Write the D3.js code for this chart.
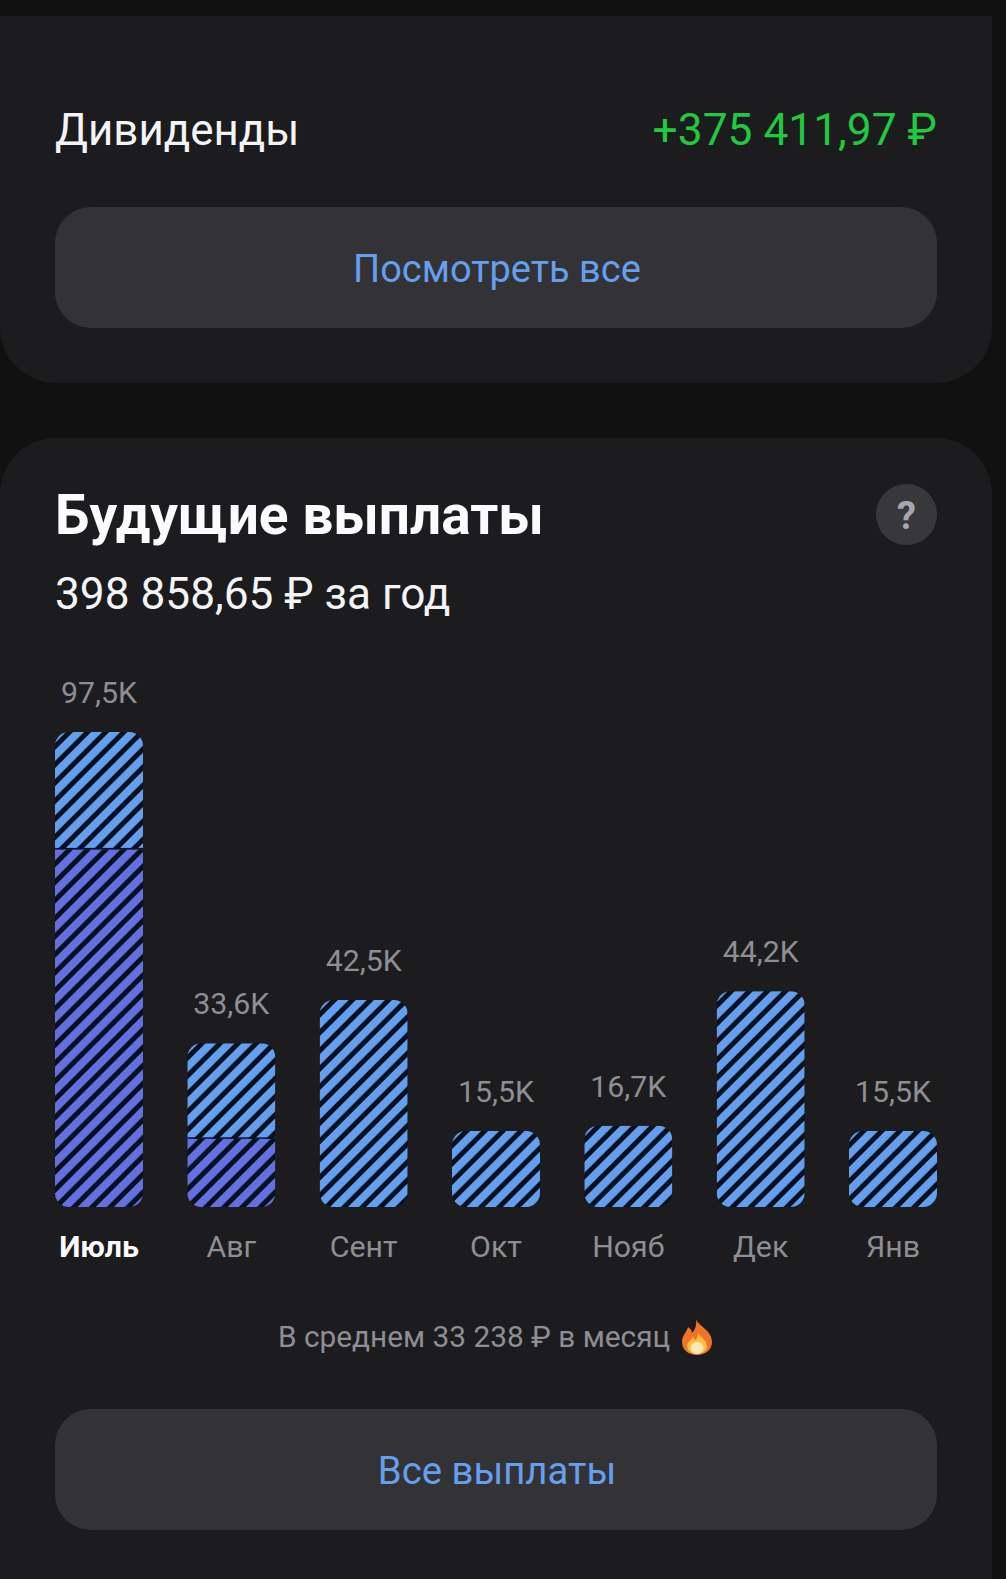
<!DOCTYPE html>
<html><head><meta charset="utf-8">
<script src="https://cdn.jsdelivr.net/npm/d3@7"></script>
<style>html,body{margin:0;padding:0;background:#111112;overflow:hidden}svg{display:block;font-family:Roboto,sans-serif}</style>
</head><body><svg id="c" width="1006" height="1579"></svg>
<script>
const months=["Июль","Авг","Сент","Окт","Нояб","Дек","Янв"];
const totalLabels=["97,5K","33,6K","42,5K","15,5K","16,7K","44,2K","15,5K"];
const totals=[97.5,33.6,42.5,15.6,16.7,44.3,15.6];
const lowerPart=[73.4,14.0,0,0,0,0,0];
const heading="Будущие выплаты";
const subtitle="398 858,65 ₽ за год";
const average="В среднем 33 238 ₽ в месяц";

const svg=d3.select("#c");
const defs=svg.append("defs");
function hatch(id,color,x0,y0){
  const p=defs.append("pattern").attr("id",id).attr("patternUnits","userSpaceOnUse")
    .attr("width",12.8).attr("height",12.8).attr("patternTransform",`translate(${x0},${y0}) rotate(45)`);
  p.append("rect").attr("width",12.8).attr("height",12.8).attr("fill","#07101f");
  p.append("rect").attr("x",0).attr("width",7.8).attr("height",12.8).attr("fill",color);
}

svg.append("rect").attr("width",1006).attr("height",1579).attr("fill","#111112");
const card="#1c1c1e", btn="#333336";
svg.append("path").attr("fill",card).attr("d","M0 16H992V327A56 56 0 0 1 936 383H56A56 56 0 0 1 0 327Z");
svg.append("path").attr("fill",card).attr("d","M0 494A56 56 0 0 1 56 438H936A56 56 0 0 1 992 494V1579H0Z");

function text(x,y,s,size,fill,anchor,weight){
  return svg.append("text").attr("x",x).attr("y",y).text(s).attr("font-size",size).attr("fill",fill)
    .attr("text-anchor",anchor||"start").attr("font-weight",weight||400);
}
text(55,145,"Дивиденды",43.9,"#f4f4f6");
text(937,145,"+375 411,97 ₽",44.3,"#20c93e","end");
svg.append("rect").attr("x",55).attr("y",207).attr("width",882).attr("height",121).attr("rx",36).attr("fill",btn);
text(497,282,"Посмотреть все",38,"#649ff0","middle");

text(55,533.5,heading,55,"#fbfbfd","start",700);
text(55,609,subtitle,44.2,"#f4f4f6");
svg.append("circle").attr("cx",906.5).attr("cy",514.5).attr("r",30.5).attr("fill","#38383b");
text(906.5,528.5,"?",38,"#a6a7ae","middle",700);

const x=d3.scaleBand().domain(months).range([55,937]).paddingInner(44.33/132.33).paddingOuter(0);
const y=d3.scaleLinear().domain([0,97.5]).range([1207,732]);

months.forEach((m,i)=>{
  const bx=x(m), bw=x.bandwidth(), top=y(totals[i]), base=y(0);
  defs.append("clipPath").attr("id","b"+i).append("rect")
    .attr("x",bx).attr("y",top).attr("width",bw).attr("height",base-top).attr("rx",14);
  const g=svg.append("g").attr("clip-path",`url(#b${i})`);
  hatch("up"+i,"#629fee",bx,top);
  const split=lowerPart[i]>0?y(lowerPart[i]):base;
  g.append("rect").attr("x",bx).attr("y",top).attr("width",bw).attr("height",split-top).attr("fill",`url(#up${i})`);
  if(lowerPart[i]>0){
    hatch("lo"+i,"#6470e0",bx,split);
    g.append("rect").attr("x",bx).attr("y",split).attr("width",bw).attr("height",base-split).attr("fill",`url(#lo${i})`);
    g.append("rect").attr("x",bx).attr("y",split-1.5).attr("width",bw).attr("height",1.5).attr("fill","#0a1226");
  }
  text(bx+bw/2,top-29,totalLabels[i],30.3,"#8e8e93","middle");
  text(bx+bw/2,1257,m,30.3,i===0?"#fbfbfd":"#8e8e93","middle",i===0?700:400);
});

text(278,1347,average,29.8,"#8e8e93");
const fl=svg.append("g").attr("transform","translate(697,1337)");
fl.append("path").attr("fill","#f0732a").attr("d","M-1 -18C1 -11 15 -7 15 5C15 13 8 18 0 18C-8 18 -15 13 -15 5C-15 -2 -10 -5 -9 -10C-6 -8 -5 -6 -5 -4C-2 -7 0 -12 -1 -18Z");
fl.append("path").attr("fill","#fbbd3f").attr("d","M1 -4C3 0 10 3 10 9C10 14 5 17 0 17C-5 17 -10 14 -10 9C-10 5 -5 3 -4 0C-3 2 -2 3 -1 3C0 1 1 -1 1 -4Z");
fl.append("ellipse").attr("cx",0).attr("cy",11).attr("rx",6.5).attr("ry",6).attr("fill","#fde9b8");

svg.append("rect").attr("x",55).attr("y",1409).attr("width",882).attr("height",121).attr("rx",36).attr("fill",btn);
text(497,1484,"Все выплаты",38.3,"#649ff0","middle");
</script></body></html>
